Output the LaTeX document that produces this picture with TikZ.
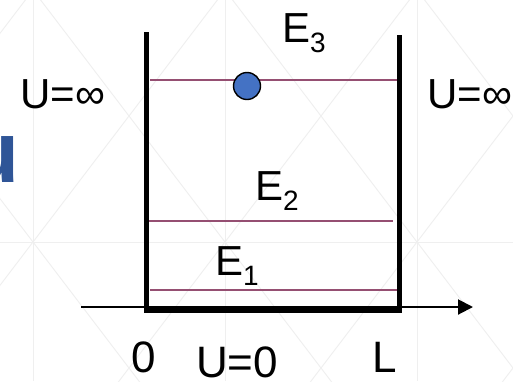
\documentclass[tikz,border=0pt]{standalone}
\usepackage{fontspec}
\setmainfont{Liberation Sans}
\usetikzlibrary{arrows.meta}
\definecolor{levelc}{HTML}{954F72}
\definecolor{ballc}{HTML}{4472C4}
\definecolor{titleblue}{HTML}{2F5597}
\definecolor{gridc}{HTML}{EFEFEF}
\newcommand{\bigf}{\fontsize{42}{42}\selectfont}
\newcommand{\subf}{\fontsize{28}{28}\selectfont}
\newcommand{\axf}{\fontsize{44}{44}\selectfont}
\begin{document}
\begin{tikzpicture}[x=1pt,y=-1pt,
  bggrid/.style={draw=gridc, line width=0.9pt},
  wall/.style={line width=5pt, line cap=butt},
  floorbar/.style={line width=7pt, line cap=butt},
  level/.style={draw=levelc, line width=2pt},
  lbl/.style={inner sep=0pt, anchor=base west, font=\bigf},
  axlbl/.style={inner sep=0pt, anchor=base west, font=\axf},
  particle/.style={circle, fill=ballc, draw=black, line width=1.4pt, minimum size=27pt, inner sep=0pt}]
\useasboundingbox (0,0) rectangle (513,381);
\fill[white] (0,0) rectangle (513,381);
\begin{scope}
  \clip (0,0) rectangle (513,381);
  \foreach \k in {0,1,2} \draw[bggrid] ({33+192*\k},0) -- ({33+192*\k},381);
  \draw[bggrid] (0,242) -- (513,242);
  \foreach \k in {-1,0,1,2} {
    \foreach \m in {0,1} {
      \draw[bggrid] ({33+192*\k},{-10+252*\m}) -- ({225+192*\k},{242+252*\m});
      \draw[bggrid] ({33+192*\k},{242+252*\m}) -- ({225+192*\k},{-10+252*\m});
    }
  }
  \node[inner sep=0pt, anchor=base west, text=titleblue, font=\bfseries\fontsize{87}{87}\selectfont] (title) at (-33.5,182) {u};
\end{scope}

% coordinates of the well
\coordinate (lt) at (146.5,32);
\coordinate (lb) at (146.5,313);
\coordinate (rt) at (399,35);
\coordinate (rb) at (399,313);
\coordinate (fl) at (144,309.5);
\coordinate (fr) at (402,309.5);
\coordinate (axs) at (81,307);
\coordinate (axe) at (473,307);
\coordinate (e3l) at (150,80);
\coordinate (e3r) at (399,80);
\coordinate (e2l) at (144,221);
\coordinate (e2r) at (393,221);
\coordinate (e1l) at (150,290);
\coordinate (e1r) at (399,290);

% axis
\draw[line width=2pt, -{Triangle[length=15pt,width=15pt]}] (axs) -- (axe);

% energy levels
\draw[level] (e3l) -- (e3r);
\draw[level] (e2l) -- (e2r);
\draw[level] (e1l) -- (e1r);

% walls and floor
\draw[wall] (lt) -- (lb);
\draw[wall] (rt) -- (rb);
\draw[floorbar] (fl) -- (fr);

% particle
\node[particle] (ball) at (247,86) {};

% labels
\node[lbl] (E3) at (282,42) {E\raisebox{-10pt}{\subf 3}};
\node[lbl] (E2) at (255,200) {E\raisebox{-10pt}{\subf 2}};
\node[lbl] (E1) at (215,275) {E\raisebox{-10pt}{\subf 1}};
\node[lbl] (UL) at (20,108) {U=∞};
\node[lbl] (UR) at (427,108) {U=∞};
\node[axlbl] (zero) at (131,372) {0};
\node[axlbl] (U0) at (196,377) {U=0};
\node[axlbl] (Lx) at (372,372) {L};
\end{tikzpicture}
\end{document}
